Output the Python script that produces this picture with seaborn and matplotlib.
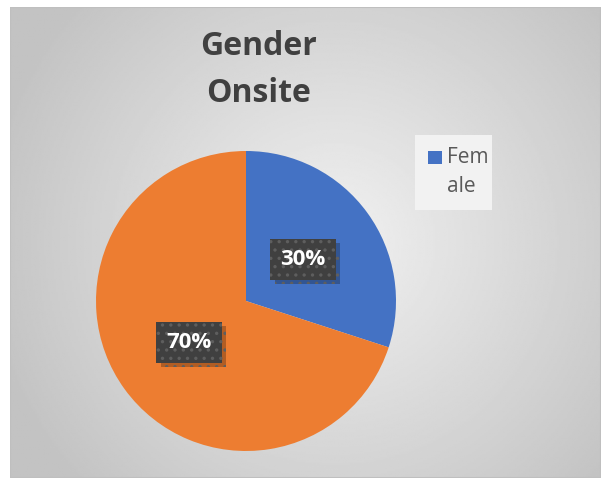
import numpy as np
import matplotlib
matplotlib.use("Agg")
import matplotlib.pyplot as plt
import matplotlib.patheffects as pe
from matplotlib.patches import Rectangle
import seaborn as sns

sns.set_theme(style="white")
plt.rcParams["font.family"] = ["Open Sans", "DejaVu Sans"]
plt.rcParams["hatch.linewidth"] = 1.2

title = "Gender\nOnsite"
categories = ["Fem\nale", "Male"]
values = [30, 70]
colors = ["#4472C4", "#ED7D31"]

W, H = 605, 478
fig = plt.figure(figsize=(W / 100, H / 100), dpi=100)
fig.patch.set_facecolor("white")

# chart area with radial grey gradient
x0, y0, x1, y1 = 10, 7, 601, 478
bg = fig.add_axes([x0 / W, 1 - y1 / H, (x1 - x0) / W, (y1 - y0) / H])
yy, xx = np.mgrid[0:1:300j, 0:1:300j]
d = np.sqrt(((xx - 0.55) * 1.25) ** 2 + ((yy - 0.5) * 1.0) ** 2)
d = np.clip(d / 0.75, 0, 1)
shade = 0.945 - 0.18 * d
bg.imshow(shade, cmap="gray", vmin=0, vmax=1, extent=[0, 1, 0, 1], aspect="auto")
bg.set_axis_off()
bg.add_patch(Rectangle((0, 0), 1, 1, transform=bg.transAxes, fill=False,
                       edgecolor="#bfbfbf", lw=1.5))

# pie
cx, cy, r = 246, 301, 150
ax = fig.add_axes([(cx - r) / W, 1 - (cy + r) / H, 2 * r / W, 2 * r / H])
ax.set_facecolor("none")
wedges, texts, autotexts = ax.pie(
    values, colors=colors, startangle=90, counterclock=False,
    autopct="%d%%", pctdistance=0.47,
    wedgeprops=dict(linewidth=0),
    textprops=dict(color="white", fontsize=16, fontweight="bold"),
)
ax.set_xlim(-1, 1)
ax.set_ylim(-1, 1)
ax.set_aspect("equal")

for t in autotexts:
    t.set_bbox(dict(boxstyle="square,pad=0.45", facecolor="#404040",
                    edgecolor="#5e5e5e", hatch="..", linewidth=0))
    t.get_bbox_patch().set_path_effects([
        pe.SimplePatchShadow(offset=(3, -3), shadow_rgbFace="black", alpha=0.25),
        pe.Normal(),
    ])

fig.text(259 / W, 1 - 70 / H, title, ha="center", va="center", fontsize=23,
         fontweight="bold", color="#404040", linespacing=1.55)

# legend box drawn by hand so the marker sits on the first line
lx, ly, lw, lh = 415, 135, 77, 75
fig.patches.append(Rectangle((lx / W, 1 - (ly + lh) / H), lw / W, lh / H,
                             transform=fig.transFigure, facecolor="#f2f2f2",
                             edgecolor="none", zorder=5))
fig.patches.append(Rectangle((428 / W, 1 - 164 / H), 14 / W, 13 / H,
                             transform=fig.transFigure, facecolor=colors[0],
                             edgecolor="none", zorder=6))
fig.text(447 / W, 1 - 147 / H, categories[0], ha="left", va="top",
         fontsize=15, color="#595959", linespacing=1.5, zorder=7)

fig.savefig("out.png", dpi=100)
